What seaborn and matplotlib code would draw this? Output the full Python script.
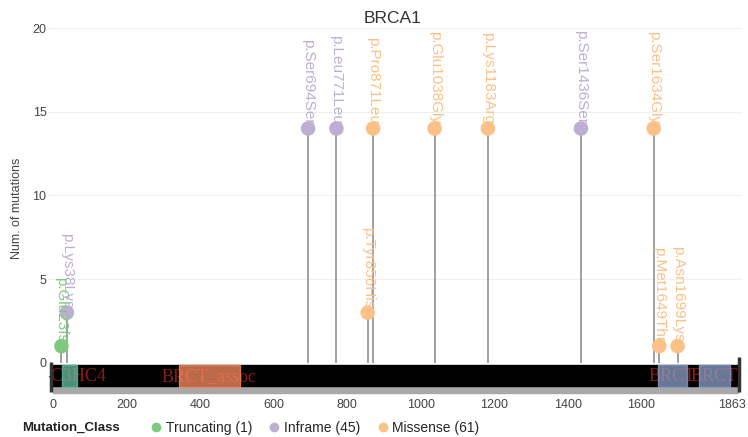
import pandas as pd
import matplotlib
matplotlib.use("Agg")
import matplotlib.pyplot as plt
import matplotlib.transforms as mtransforms
import seaborn as sns
from matplotlib.lines import Line2D

# lollipop data
positions = [23, 38, 694, 771, 856, 871, 1038, 1183, 1436, 1634, 1649, 1699]
counts = [1, 3, 14, 14, 3, 14, 14, 14, 14, 14, 1, 1]
labels = ['p.Glu23fs', 'p.Lys38Lys', 'p.Ser694Ser', 'p.Leu771Leu', 'p.Tyr856His',
          'p.Pro871Leu', 'p.Glu1038Gly', 'p.Lys1183Arg', 'p.Ser1436Ser',
          'p.Ser1634Gly', 'p.Met1649Thr', 'p.Asn1699Lys']
classes = ['Truncating', 'Inframe', 'Inframe', 'Inframe', 'Missense', 'Missense',
           'Missense', 'Missense', 'Inframe', 'Missense', 'Missense', 'Missense']

class_names = ['Truncating', 'Inframe', 'Missense']
class_totals = [1, 45, 61]
class_colors = ['#7fc97f', '#beaed4', '#fdc086']

# protein domains
protein_len = 1863
domain_names = ['zf-C3HC4', 'BRCT_assoc', 'BRCT', 'BRCT']
domain_start = [24, 343, 1646, 1757]
domain_end = [65, 508, 1724, 1841]
domain_colors = ['#66c2a5', '#fc8d62', '#8da0cb', '#8da0cb']

x_ticks = [0, 200, 400, 600, 800, 1000, 1200, 1400, 1600, 1863]
y_ticks = [0, 5, 10, 15, 20]

df = pd.DataFrame({'pos': positions, 'count': counts, 'label': labels, 'cls': classes})
palette = dict(zip(class_names, class_colors))

sns.set_style('white')
plt.rcParams['font.family'] = ['Liberation Sans', 'DejaVu Sans']

fig = plt.figure(figsize=(7.48, 4.37), dpi=100)
ax = fig.add_axes([0.0659, 0.093, 0.9255, 0.862])

# grid
for y in y_ticks[1:]:
    ax.axhline(y, color='#f0f0f0', lw=0.8, zorder=0)

# protein backbone
ax.add_patch(plt.Rectangle((0, -1.78), protein_len, 1.6, color='#a8a8a8', zorder=1))
ax.add_patch(plt.Rectangle((0, -1.4), protein_len, 1.3, color='black', zorder=2))
ax.vlines(-4, -1.75, 0.05, color='#333333', lw=2.5, zorder=5)
ax.vlines(protein_len + 2, -1.75, 0.35, color='#333333', lw=2.5, zorder=5)
for name, s, e, c in zip(domain_names, domain_start, domain_end, domain_colors):
    ax.add_patch(plt.Rectangle((s, -1.45), e - s, 1.35, color=c, alpha=0.75, zorder=4))
    ax.text((s + e) / 2, -0.8, name, ha='center', va='center', color='#8e1a10',
            family='Liberation Serif', fontsize=13, zorder=3, clip_on=True)

# stems + heads
ax.vlines(df['pos'], 0, df['count'], color='#a0a0a0', lw=1.4, zorder=2)
sns.scatterplot(data=df, x='pos', y='count', hue='cls', palette=palette, s=110,
                edgecolor='none', legend=False, ax=ax, zorder=6)
for _, r in df.iterrows():
    ax.annotate(r['label'], (r['pos'], r['count']), xytext=(0, 3), textcoords='offset points',
                rotation=270, ha='center', va='bottom', color=palette[r['cls']], fontsize=11,
                zorder=7)

ax.set_xlim(-10, protein_len + 10)
ax.set_ylim(-2, 20.5)
ax.set_xticks(x_ticks)
ax.set_yticks(y_ticks)
ax.tick_params(axis='both', length=0, labelsize=9, colors='#444444', pad=2)
# last tick label sits a bit left so it stays inside the figure
last = ax.get_xticklabels()[-1]
last.set_transform(last.get_transform() + mtransforms.ScaledTranslation(-4 / 72, 0, fig.dpi_scale_trans))
ax.set_xlabel('')
ax.set_ylabel('Num. of mutations', fontsize=9, color='#444444', labelpad=7)
for sp in ax.spines.values():
    sp.set_visible(False)

fig.text(0.525, 0.958, 'BRCA1', ha='center', va='center', fontsize=12.5, color='#333333')

# legend
fig.text(0.03, 0.02, 'Mutation_Class', ha='left', va='center', fontsize=9.5, fontweight='bold', color='#222222')
handles = [Line2D([], [], marker='o', ls='', color=c, markersize=6) for c in class_colors]
leg_labels = [f'{n} ({t})' for n, t in zip(class_names, class_totals)]
fig.legend(handles, leg_labels, loc='center left', bbox_to_anchor=(0.19, 0.02), ncol=3,
           frameon=False, fontsize=10, handletextpad=0.1, columnspacing=1.0, borderaxespad=0,
           handlelength=1.2)

fig.savefig('out.png', dpi=100)
